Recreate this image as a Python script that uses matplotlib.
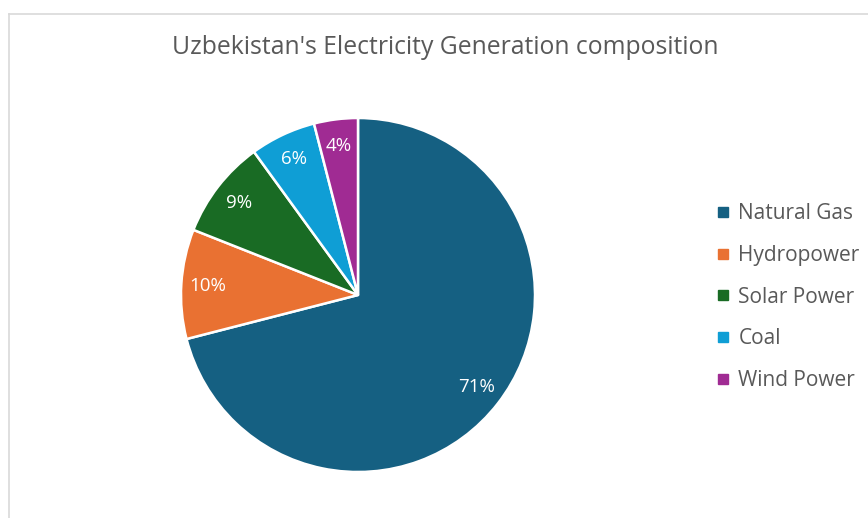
import matplotlib
matplotlib.use("Agg")
import matplotlib.pyplot as plt
from matplotlib.lines import Line2D

plt.rcParams['font.family'] = ['Open Sans', 'DejaVu Sans']

sources = ["Natural Gas", "Hydropower", "Solar Power", "Coal", "Wind Power"]
shares = [71, 10, 9, 6, 4]
colors = ["#156082", "#E97132", "#196B24", "#0F9ED5", "#A02B93"]
title = "Uzbekistan's Electricity Generation composition"

W, H = 868, 518
fig = plt.figure(figsize=(W / 100, H / 100), dpi=100)
fig.patch.set_facecolor("white")

# chart-area border (top and left edges visible)
border = fig.add_axes([0, 0, 1, 1], facecolor="none")
border.set_xlim(0, W)
border.set_ylim(H, 0)
border.axis("off")
border.plot([9, W], [14, 14], color="#d9d9d9", lw=1.2)
border.plot([9, 9], [14, H], color="#d9d9d9", lw=1.2)

# pie axes: centre (358, 295), radius 177 px
cx, cy, r = 358, 295, 177
ax = fig.add_axes([(cx - r) / W, (H - cy - r) / H, 2 * r / W, 2 * r / H])
wedges, texts, autotexts = ax.pie(
    shares,
    colors=colors,
    startangle=90,
    counterclock=False,
    autopct=lambda p: f"{p:.0f}%",
    pctdistance=0.85,
    wedgeprops=dict(edgecolor="white", linewidth=1.8),
    textprops=dict(color="white", fontsize=13.5),
)
ax.set_xlim(-1, 1)
ax.set_ylim(-1, 1)
ax.set_aspect("equal")
ax.axis("off")

fig.text(445 / W, 1 - 47 / H, title, ha="center", va="center",
         fontsize=17.8, color="#595959")

handles = [Line2D([], [], marker="s", linestyle="none", markersize=7.5,
                  markerfacecolor=c, markeredgecolor=c) for c in colors]
fig.legend(handles, sources, loc="upper left",
           bbox_to_anchor=(707 / W, 1 - 193 / H), frameon=False,
           fontsize=15, labelcolor="#595959", handlelength=0.55,
           handletextpad=0.45, labelspacing=0.99, borderpad=0)

fig.savefig("out.png", dpi=100, facecolor="white")
